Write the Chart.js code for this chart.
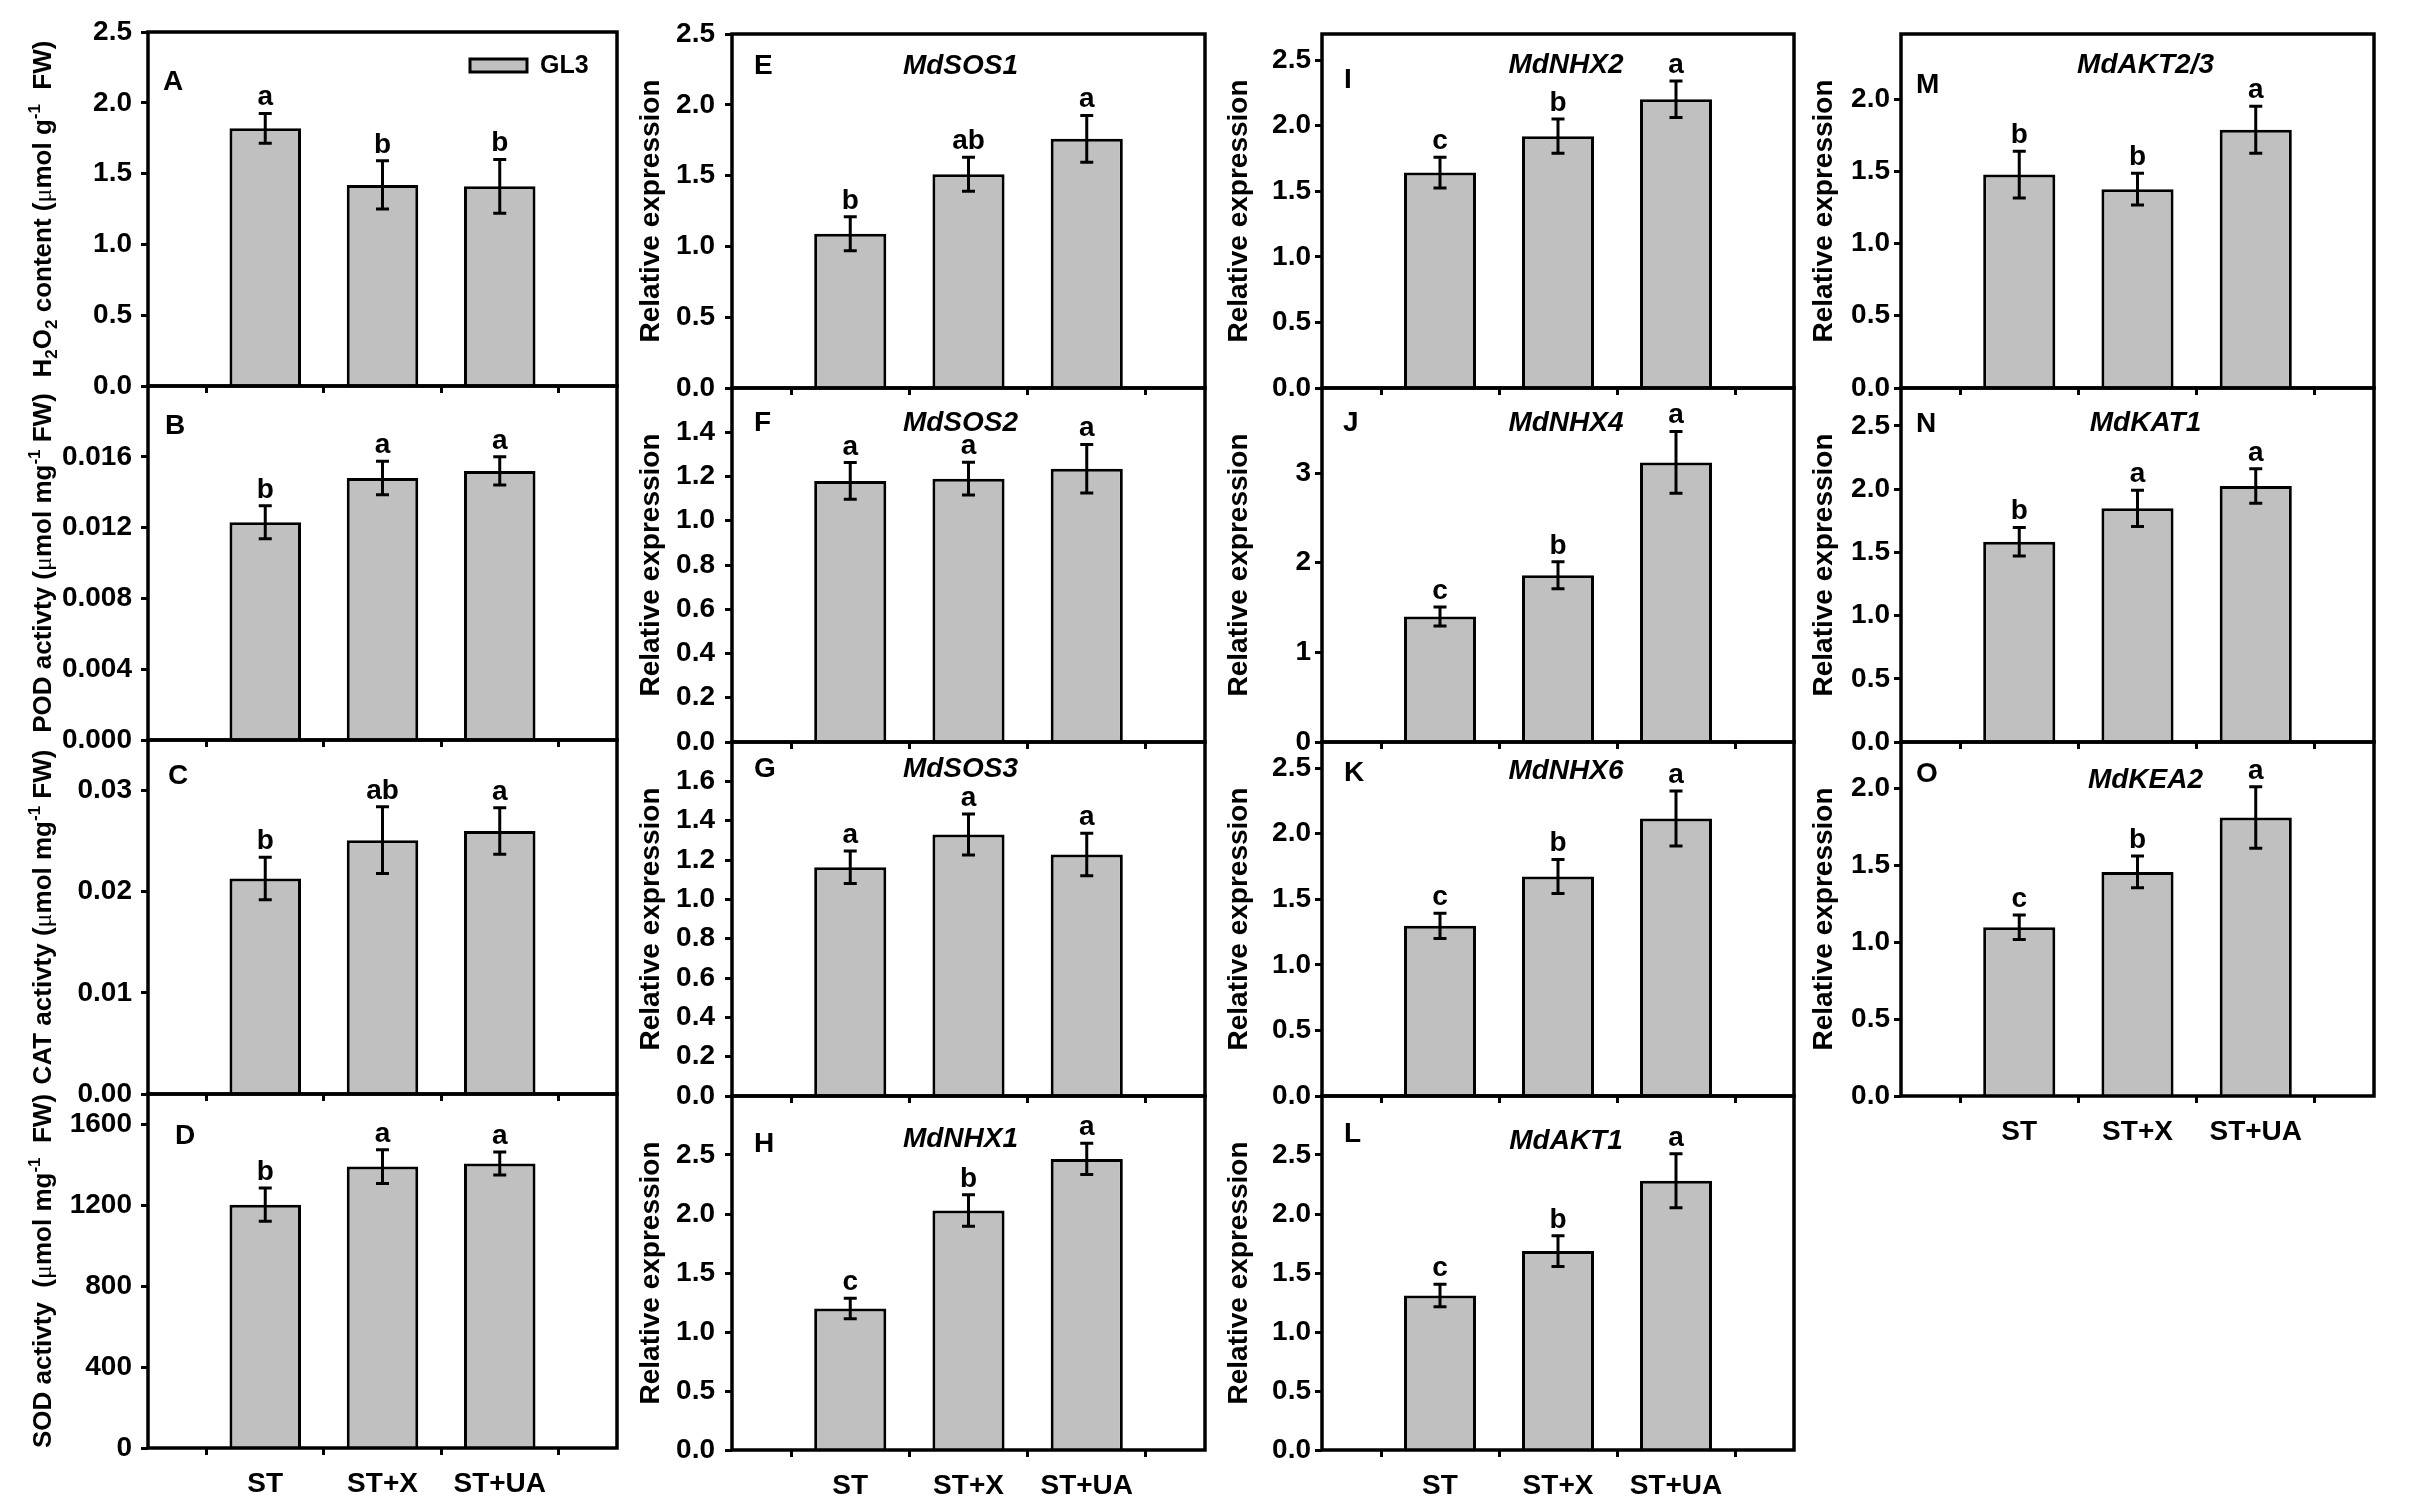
<!DOCTYPE html>
<html>
<head>
<meta charset="utf-8">
<script src="https://cdn.jsdelivr.net/npm/chart.js@4.4.0/dist/chart.umd.min.js"></script>
<style>
html,body{margin:0;padding:0;background:#fff;}
#wrap{position:relative;width:2415px;height:1504px;overflow:hidden;background:#fff;}
#wrap canvas{position:absolute;}
</style>
</head>
<body>
<div id="wrap"></div>
<script>
// ---------------- DATA ----------------
const categories = ['ST', 'ST+X', 'ST+UA'];
const seriesName = 'GL3';

const meanA = [1.82, 1.42, 1.41];        const errA = [0.105, 0.17, 0.19];       const sigA = ['a', 'b', 'b'];
const meanB = [0.0123, 0.0148, 0.0152];  const errB = [0.00093, 0.00095, 0.0008]; const sigB = ['b', 'a', 'a'];
const meanC = [0.0213, 0.0251, 0.0260];  const errC = [0.0021, 0.0033, 0.0023]; const sigC = ['b', 'ab', 'a'];
const meanD = [1203, 1391, 1406];        const errD = [82, 83, 57];              const sigD = ['b', 'a', 'a'];
const meanE = [1.09, 1.51, 1.76];        const errE = [0.12, 0.12, 0.165];       const sigE = ['b', 'ab', 'a'];
const meanF = [1.18, 1.19, 1.235];       const errF = [0.083, 0.074, 0.11];      const sigF = ['a', 'a', 'a'];
const meanG = [1.163, 1.33, 1.228];      const errG = [0.083, 0.104, 0.108];     const sigG = ['a', 'a', 'a'];
const meanH = [1.20, 2.03, 2.467];       const errH = [0.087, 0.134, 0.133];     const sigH = ['c', 'b', 'a'];
const meanI = [1.643, 1.921, 2.203];     const errI = [0.117, 0.13, 0.139];      const sigI = ['c', 'b', 'a'];
const meanJ = [1.40, 1.86, 3.12];        const errJ = [0.105, 0.15, 0.345];      const sigJ = ['c', 'b', 'a'];
const meanK = [1.298, 1.674, 2.117];     const errK = [0.096, 0.13, 0.21];       const sigK = ['c', 'b', 'a'];
const meanL = [1.31, 1.686, 2.281];      const errL = [0.095, 0.13, 0.229];      const sigL = ['c', 'b', 'a'];
const meanM = [1.477, 1.376, 1.787];     const errM = [0.162, 0.11, 0.163];      const sigM = ['b', 'b', 'a'];
const meanN = [1.584, 1.848, 2.025];     const errN = [0.113, 0.144, 0.137];     const sigN = ['b', 'a', 'a'];
const meanO = [1.096, 1.456, 1.809];     const errO = [0.08, 0.103, 0.2];        const sigO = ['c', 'b', 'a'];

const ticksA = ['0.0', '0.5', '1.0', '1.5', '2.0', '2.5'];
const ticksB = ['0.000', '0.004', '0.008', '0.012', '0.016'];
const ticksC = ['0.00', '0.01', '0.02', '0.03'];
const ticksD = ['0', '400', '800', '1200', '1600'];
const ticksE = ['0.0', '0.5', '1.0', '1.5', '2.0', '2.5'];
const ticksF = ['0.0', '0.2', '0.4', '0.6', '0.8', '1.0', '1.2', '1.4'];
const ticksG = ['0.0', '0.2', '0.4', '0.6', '0.8', '1.0', '1.2', '1.4', '1.6'];
const ticksH = ['0.0', '0.5', '1.0', '1.5', '2.0', '2.5'];
const ticksI = ['0.0', '0.5', '1.0', '1.5', '2.0', '2.5'];
const ticksJ = ['0', '1', '2', '3'];
const ticksK = ['0.0', '0.5', '1.0', '1.5', '2.0', '2.5'];
const ticksL = ['0.0', '0.5', '1.0', '1.5', '2.0', '2.5'];
const ticksM = ['0.0', '0.5', '1.0', '1.5', '2.0'];
const ticksN = ['0.0', '0.5', '1.0', '1.5', '2.0', '2.5'];
const ticksO = ['0.0', '0.5', '1.0', '1.5', '2.0'];

const yMaxList = [2.5, 0.020, 0.035, 1750, 2.5, 1.6, 1.8, 3.0, 2.7, 3.95, 2.7, 3.0, 2.45, 2.8, 2.3];
const geneNames = [null, null, null, null, 'MdSOS1', 'MdSOS2', 'MdSOS3', 'MdNHX1',
                   'MdNHX2', 'MdNHX4', 'MdNHX6', 'MdAKT1', 'MdAKT2/3', 'MdKAT1', 'MdKEA2'];
const panelIds = ['A','B','C','D','E','F','G','H','I','J','K','L','M','N','O'];

const titleA = [['H'], ['2', 'sub'], ['O'], ['2', 'sub'], [' content ('], ['\u03bc', 'mu'], ['mol g'], ['-1', 'sup'], ['  FW)']];
const titleB = [['POD activty ('], ['\u03bc', 'mu'], ['mol mg'], ['-1', 'sup'], [' FW)']];
const titleC = [['CAT activty ('], ['\u03bc', 'mu'], ['mol mg'], ['-1', 'sup'], [' FW)']];
const titleD = [['SOD activty  ('], ['\u03bc', 'mu'], ['mol mg'], ['-1', 'sup'], ['  FW)']];
const titleRel = [['Relative expression']];

// ---------------- LAYOUT ----------------
const FONT = "'Liberation Sans', Arial, Helvetica, sans-serif";
const colLeft = [148, 732, 1322, 1901];
const colWidth = [469, 473, 472, 473];
const colTop = [32, 34, 34, 34];
const rowH = 354;
const padL = 150, padT = 55, padR = 30, padB = 75;
const titleOffset = [106, 83, 85, 79];
const tickPad = [9, 10, 4, 4];
const titleDX = [0, -8, 8, 8];
const letterPos = {A:[15,50],B:[17,40],C:[20,36],D:[27,42],E:[22,32],F:[22,35],G:[22,27],H:[22,48],
                   I:[22,46],J:[21,35],K:[22,31],L:[22,38],M:[15,51],N:[15,36],O:[15,32]};
const geneDY = {E:32,F:35,G:27,H:43,I:31,J:35,K:29,L:45,M:31,N:35,O:38};

const means = [meanA,meanB,meanC,meanD,meanE,meanF,meanG,meanH,meanI,meanJ,meanK,meanL,meanM,meanN,meanO];
const errs  = [errA,errB,errC,errD,errE,errF,errG,errH,errI,errJ,errK,errL,errM,errN,errO];
const sigs  = [sigA,sigB,sigC,sigD,sigE,sigF,sigG,sigH,sigI,sigJ,sigK,sigL,sigM,sigN,sigO];
const tickSets = [ticksA,ticksB,ticksC,ticksD,ticksE,ticksF,ticksG,ticksH,ticksI,ticksJ,ticksK,ticksL,ticksM,ticksN,ticksO];
const titles = [titleA,titleB,titleC,titleD,titleRel,titleRel,titleRel,titleRel,titleRel,titleRel,titleRel,titleRel,titleRel,titleRel,titleRel];
const colOf = [0,0,0,0,1,1,1,1,2,2,2,2,3,3,3];
const rowOf = [0,1,2,3,0,1,2,3,0,1,2,3,0,1,2];
const bottomPanel = ['D','H','L','O'];

function drawRichVertical(ctx, segs, cx, cy, size) {
  ctx.save();
  ctx.translate(cx, cy);
  ctx.rotate(-Math.PI / 2);
  const parts = segs.map(([t, k]) => {
    let f;
    if (k === 'sub' || k === 'sup') f = 'bold ' + Math.round(size * 0.65) + 'px ' + FONT;
    else if (k === 'mu') f = 'normal ' + size + 'px "Liberation Serif", "Times New Roman", serif';
    else f = 'bold ' + size + 'px ' + FONT;
    ctx.font = f;
    return { t, k, f, w: ctx.measureText(t).width };
  });
  const total = parts.reduce((s, p) => s + p.w, 0);
  let x = -total / 2;
  const base = size * 0.36;
  ctx.fillStyle = '#000';
  ctx.textBaseline = 'alphabetic';
  ctx.textAlign = 'left';
  parts.forEach(p => {
    ctx.font = p.f;
    let y = base;
    if (p.k === 'sub') y = base + size * 0.2;
    if (p.k === 'sup') y = base - size * 0.42;
    ctx.fillText(p.t, x, y);
    x += p.w;
  });
  ctx.restore();
}

const decorPlugin = {
  id: 'decor',
  afterDatasetsDraw(chart) {
    const p = chart.options.plugins.decor;
    const ctx = chart.ctx;
    const area = chart.chartArea;
    const ys = chart.scales.y;
    const meta = chart.getDatasetMeta(0);
    ctx.save();
    // error bars
    ctx.strokeStyle = '#000';
    ctx.lineWidth = 3;
    ctx.lineCap = 'butt';
    p.mean.forEach((m, i) => {
      const el = meta.data[i + 1];
      const x = el.x;
      const yt = ys.getPixelForValue(m + p.err[i]);
      const yb = ys.getPixelForValue(m - p.err[i]);
      ctx.beginPath();
      ctx.moveTo(x, yt); ctx.lineTo(x, yb);
      ctx.moveTo(x - 6.5, yt); ctx.lineTo(x + 6.5, yt);
      ctx.moveTo(x - 6.5, yb); ctx.lineTo(x + 6.5, yb);
      ctx.stroke();
      // significance letters
      ctx.fillStyle = '#000';
      ctx.font = 'bold 28px ' + FONT;
      ctx.textAlign = 'center';
      ctx.textBaseline = 'alphabetic';
      ctx.fillText(p.sig[i], x, yt - 8);
    });
    // frame
    ctx.lineWidth = 3.5;
    ctx.strokeRect(area.left, area.top, area.right - area.left, area.bottom - area.top);
    // panel letter
    const lp = letterPos[p.id];
    ctx.font = 'bold 28px ' + FONT;
    ctx.textAlign = 'left';
    ctx.textBaseline = 'middle';
    ctx.fillText(p.id, area.left + lp[0], area.top + lp[1]);
    // gene name
    if (p.gene) {
      ctx.font = 'italic bold 28px ' + FONT;
      ctx.textAlign = 'center';
      ctx.fillText(p.gene, (area.left + area.right) / 2 + titleDX[p.col], area.top + geneDY[p.id]);
    }
    // legend (panel A)
    if (p.legend) {
      ctx.fillStyle = '#c0c0c0';
      ctx.fillRect(area.left + 322, area.top + 27, 57, 13);
      ctx.lineWidth = 3;
      ctx.strokeRect(area.left + 322, area.top + 27, 57, 13);
      ctx.fillStyle = '#000';
      ctx.font = 'bold 25px ' + FONT;
      ctx.textAlign = 'left';
      ctx.textBaseline = 'middle';
      ctx.fillText(seriesName, area.left + 392, area.top + 34);
    }
    // y title
    drawRichVertical(ctx, p.title, area.left - titleOffset[p.col], (area.top + area.bottom) / 2,
                     p.col === 0 ? 26 : 28);
    ctx.restore();
  }
};

const wrap = document.getElementById('wrap');
panelIds.forEach((id, k) => {
  const col = colOf[k], row = rowOf[k];
  const L = colLeft[col], W = colWidth[col];
  const T = colTop[col] + row * rowH;
  const cv = document.createElement('canvas');
  const cw = W + padL + padR, ch = rowH + padT + padB;
  cv.width = cw; cv.height = ch;
  cv.style.width = cw + 'px'; cv.style.height = ch + 'px';
  cv.style.left = (L - padL) + 'px';
  cv.style.top = (T - padT) + 'px';
  wrap.appendChild(cv);
  const showX = bottomPanel.includes(id);
  const tl = tickSets[k];
  new Chart(cv, {
    type: 'bar',
    data: {
      labels: [' ', ...categories, '  '],
      datasets: [{
        label: seriesName,
        data: [null, ...means[k], null],
        backgroundColor: '#c0c0c0',
        borderColor: '#000',
        borderWidth: 3,
        borderSkipped: 'start',
        categoryPercentage: 1.0,
        barPercentage: 0.61
      }]
    },
    options: {
      responsive: false,
      animation: false,
      events: [],
      layout: { padding: { left: 0, top: padT, right: padR, bottom: 0 } },
      scales: {
        x: {
          type: 'category',
          offset: false,
          afterFit: s => { s.height = padB; },
          afterBuildTicks: s => { s.ticks = s.ticks.filter(t => t.value >= 1 && t.value <= categories.length); },
          grid: { display: true, drawOnChartArea: false, drawTicks: true, tickLength: 7, tickWidth: 3, tickColor: '#000' },
          border: { display: false },
          ticks: {
            autoSkip: false, maxRotation: 0, minRotation: 0, padding: 12, color: '#000',
            font: { family: FONT, size: 28, weight: 'bold' },
            callback: function (v) { return showX ? this.getLabelForValue(v) : ''; }
          }
        },
        y: {
          min: 0,
          max: yMaxList[k],
          afterFit: s => { s.width = padL; },
          afterBuildTicks: s => { s.ticks = tl.map(l => ({ value: parseFloat(l) })); },
          grid: { display: true, drawOnChartArea: false, drawTicks: true, tickLength: 7, tickWidth: 3, tickColor: '#000' },
          border: { display: false },
          ticks: {
            autoSkip: false, padding: tickPad[col], color: '#000',
            font: { family: FONT, size: 28, weight: 'bold' },
            callback: (v, i) => tl[i]
          }
        }
      },
      plugins: {
        legend: { display: false },
        tooltip: { enabled: false },
        decor: {
          id, col, mean: means[k], err: errs[k], sig: sigs[k],
          gene: geneNames[k], title: titles[k], legend: id === 'A'
        }
      }
    },
    plugins: [decorPlugin]
  });
});
</script>
</body>
</html>
